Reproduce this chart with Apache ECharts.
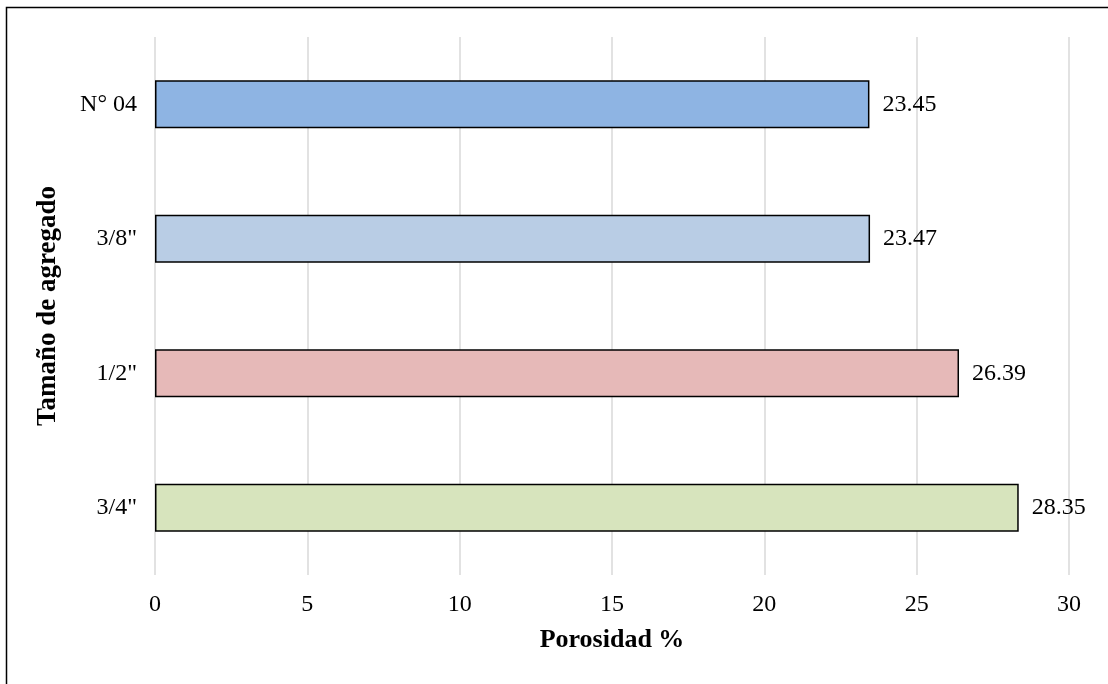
<!DOCTYPE html>
<html>
<head>
<meta charset="utf-8">
<style>
  html, body { margin: 0; padding: 0; background: #fff; }
  #chart { width: 1108px; height: 684px; }
</style>
<script src="https://cdn.jsdelivr.net/npm/echarts@6/dist/echarts.min.js"></script>
</head>
<body>
<div id="chart"></div>
<script>
// Aggregate sizes and their measured porosity (%)
const categories = ['N° 04', '3/8"', '1/2"', '3/4"'];
const porosity = [23.45, 23.47, 26.39, 28.35];
const barColors = ['#8eb4e3', '#b9cde5', '#e6b9b8', '#d7e4bd'];
const xTicks = { min: 0, max: 30, interval: 5 };

const font = '"Liberation Serif", "Times New Roman", serif';

const chart = echarts.init(document.getElementById('chart'), null, { renderer: 'canvas' });

chart.setOption({
  backgroundColor: '#fff',
  animation: false,
  textStyle: { fontFamily: font },
  graphic: [{
    type: 'rect',
    shape: { x: 6.5, y: 7.5, width: 1200, height: 800 },
    style: { fill: 'none', stroke: '#000', lineWidth: 1.5 },
    silent: true,
    z: 10
  }],
  grid: { left: 155, right: 39, top: 37, bottom: 109, containLabel: false },
  xAxis: {
    type: 'value',
    min: xTicks.min,
    max: xTicks.max,
    interval: xTicks.interval,
    name: 'Porosidad %',
    nameLocation: 'middle',
    nameGap: 52,
    nameTextStyle: { fontFamily: font, fontSize: 26, fontWeight: 'bold', color: '#000' },
    axisLine: { show: false },
    axisTick: { show: false },
    axisLabel: { fontFamily: font, fontSize: 24, color: '#000', margin: 18 },
    splitLine: { show: true, lineStyle: { color: '#d9d9d9', width: 1.5 } }
  },
  yAxis: {
    type: 'category',
    data: categories,
    inverse: true,
    name: 'Tamaño de agregado',
    nameLocation: 'middle',
    nameGap: 93,
    nameTextStyle: { fontFamily: font, fontSize: 27, fontWeight: 'bold', color: '#000' },
    axisLine: { show: false },
    axisTick: { show: false },
    axisLabel: { fontFamily: font, fontSize: 24, color: '#000', margin: 18 },
    splitLine: { show: false }
  },
  series: [{
    type: 'bar',
    data: porosity.map((v, i) => ({
      value: v,
      itemStyle: { color: barColors[i] }
    })),
    barWidth: 48,
    itemStyle: { borderColor: '#000', borderWidth: 1.5 },
    label: {
      show: true,
      position: 'right',
      distance: 13,
      fontFamily: font,
      fontSize: 24,
      color: '#000',
      formatter: p => p.value.toFixed(2)
    }
  }]
});
</script>
</body>
</html>
